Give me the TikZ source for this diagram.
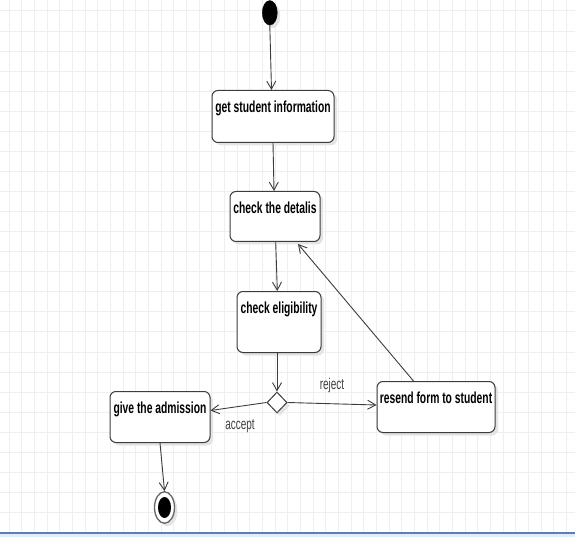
\documentclass[tikz,border=0pt]{standalone}
\usepackage{fontspec}
\setmainfont{Liberation Sans}[FakeStretch=0.645]
\usetikzlibrary{shapes.geometric,arrows.meta,shadows}
\definecolor{gridcol}{HTML}{EFEFEF}
\definecolor{linecol}{HTML}{3C3C3C}
\definecolor{shadowcol}{HTML}{E4E4E4}
\definecolor{bandline}{HTML}{5A7FB5}
\definecolor{bandfill}{HTML}{E2EBF7}
\begin{document}
\begin{tikzpicture}[x=1pt,y=-1pt,
  shadowed/.style={drop shadow={shadow xshift=3pt, shadow yshift=-3pt, fill=shadowcol, opacity=1}},
  box/.style={draw=linecol, line width=1pt, fill=white, rounded corners=6pt, inner sep=0pt,
    text height=21.7pt, anchor=north, font=\fontsize{16}{18}\selectfont\bfseries, shadowed},
  conn/.style={draw=linecol, line width=0.9pt, -{Straight Barb[length=8pt,width=9pt]}},
  lbl/.style={font=\fontsize{15.5}{18}\selectfont, text=black!75, inner sep=0pt},
  startnode/.style={ellipse, fill=black, draw=black, minimum width=15pt, minimum height=24.5pt, inner sep=0pt, shadowed},
  endouter/.style={ellipse, fill=white, draw=black!60, line width=1.3pt, minimum width=20pt, minimum height=31.5pt, inner sep=0pt, shadowed},
  decision/.style={diamond, draw=linecol, line width=1pt, fill=white, minimum width=20pt, minimum height=21pt, inner sep=0pt, shadowed}
]
\useasboundingbox (0,0) rectangle (575,537);
% grid
\foreach \i in {0,...,44} \draw[gridcol, line width=1pt] ({9.3+12.66*\i},0) -- ({9.3+12.66*\i},532);
\foreach \j in {0,...,26} \draw[gridcol, line width=1pt] (0,{11+20.06*\j}) -- (575,{11+20.06*\j});
% bottom band
\fill[bandfill] (0,534) rectangle (575,537);
\draw[bandline, line width=1.5pt] (0,533) -- (575,533);

% nodes
\node[startnode] (init) at (269.8,12.8) {};
\node[box, minimum width=122pt, text depth=30.3pt] (b1) at (273,90) {get student information};
\node[box, minimum width=90pt, text depth=28.3pt] (b2) at (275,191) {check the detalis};
\node[box, minimum width=84pt, text depth=39.3pt] (b3) at (279,291) {check eligibility};
\node[decision] (dia) at (277,402.5) {};
\node[box, minimum width=100pt, text depth=29.3pt] (b4) at (160,391) {give the admission};
\node[box, minimum width=118pt, text depth=29.3pt] (b5) at (436,381) {resend form to student};
\node[endouter] (final) at (164.5,507.5) {};
\fill[black] (final.center) ellipse [x radius=6.5pt, y radius=10.5pt];

% connectors
\draw[conn] (init.south) -- ([xshift=-1.5pt]b1.north);
\draw[conn] (b1.south) -- ([xshift=-1pt]b2.north);
\draw[conn] ([xshift=0.7pt]b2.south) -- ([xshift=-1.7pt]b3.north);
\draw[conn] ([xshift=-2pt]b3.south) -- (dia.north);
\draw[conn] (dia.west) -- ([yshift=6.5pt]b4.east);
\draw[conn] (b4.south) -- (final.north);
\draw[conn] (dia.east) -- ([yshift=2pt]b5.west);
\draw[conn] ([xshift=-22.5pt]b5.north) -- ([xshift=23pt,yshift=-2pt]b2.south);

% labels
\node[lbl] (acc) at (240,426) {accept};
\node[lbl] (rej) at (332,385) {reject};
\end{tikzpicture}
\end{document}
